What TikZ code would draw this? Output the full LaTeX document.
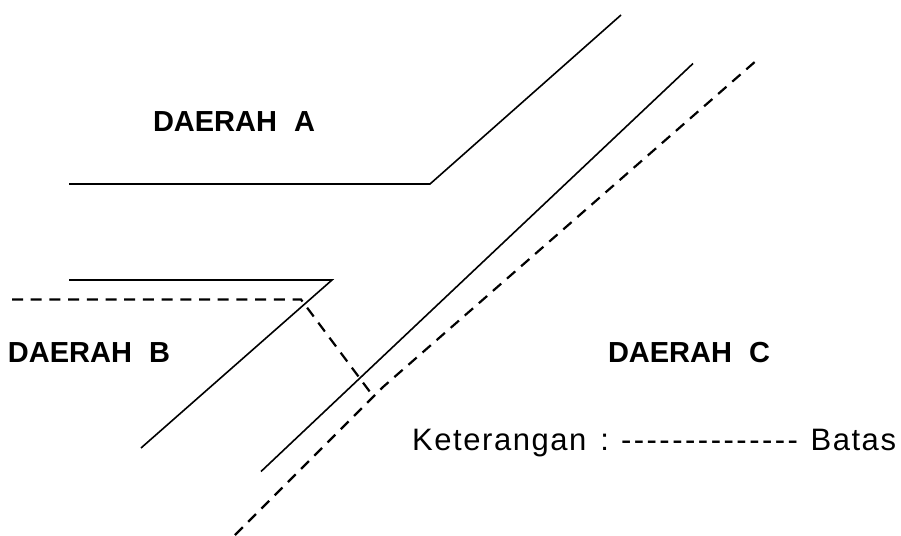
\documentclass[tikz,border=0pt]{standalone}
\usepackage{fontspec}
\setmainfont{Liberation Sans}
\newfontfamily\notefont[LetterSpace=5]{Liberation Sans}
\usetikzlibrary{positioning}
\tikzset{
    boundary/.style={line width=1.6pt},
    limit/.style={line width=2.2pt, dash pattern=on 11pt off 7.7pt},
    region/.style={font=\bfseries\fontsize{29}{32}\selectfont, inner sep=0pt, anchor=base},
    note/.style={font=\notefont\fontsize{31}{34}\selectfont, inner sep=0pt, anchor=base west}
}
\begin{document}
\begin{tikzpicture}[x=1pt,y=-1pt]
    \useasboundingbox (0,0) rectangle (901,535);
    % upper road edge
    \draw[boundary] (69,184) -- (430,184) -- (621,15);
    % lower road edge
    \draw[boundary] (69,280) -- (332,280) -- (141,448);
    \draw[boundary] (261,471.5) -- (693,63.5);
    % dashed limits
    \draw[limit] (12,299.5) -- (301,299.5) -- (370,392);
    \draw[limit] (235,535) -- (383,387) -- (757,60);

    \node[region] (daeraha) at (234,131) {DAERAH\hspace{17pt}A};
    \node[region] (daerahb) at (89,362) {DAERAH\hspace{17pt}B};
    \node[region] (daerahc) at (689,362) {DAERAH\hspace{17pt}C};
    \node[note] (keterangan) at (412,450) {Keterangan\hspace{14pt}:\hspace{12pt}\foreach \i in {1,...,14}{-\kern2.5pt}\hspace{10pt}Batas};
\end{tikzpicture}
\end{document}
